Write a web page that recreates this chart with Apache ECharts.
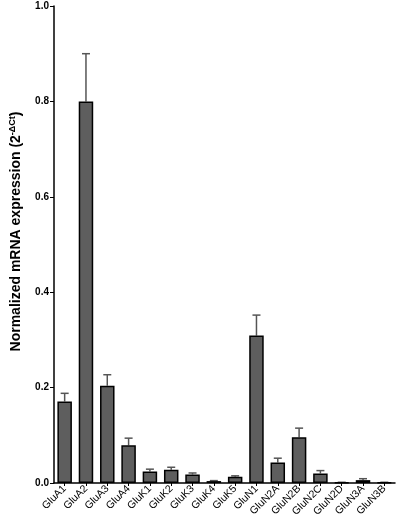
<!DOCTYPE html>
<html>
<head>
<meta charset="utf-8">
<script src="https://cdn.jsdelivr.net/npm/echarts@6/dist/echarts.min.js"></script>
<style>html,body{margin:0;padding:0;background:#fff;}#c{width:397px;height:521px;}</style>
</head>
<body>
<div id="c"></div>
<script>
const categories = ["GluA1","GluA2","GluA3","GluA4","GluK1","GluK2","GluK3","GluK4","GluK5","GluN1","GluN2A","GluN2B","GluN2C","GluN2D","GluN3A","GluN3B"];
const means = [0.171,0.800,0.204,0.079,0.024,0.028,0.018,0.004,0.013,0.309,0.043,0.096,0.020,0.001,0.006,0.001];
const errors = [0.017,0.100,0.023,0.015,0.005,0.005,0.003,0.001,0.002,0.043,0.009,0.019,0.006,0.0005,0.003,0.0005];
const yTicks = [0.0,0.2,0.4,0.6,0.8,1.0];

const chart = echarts.init(document.getElementById('c'), null, {renderer:'canvas'});
const font = '"Liberation Sans", Arial, sans-serif';
chart.setOption({
  animation:false,
  grid:{left:43,top:6,right:2,bottom:38,containLabel:false},
  xAxis:{
    type:'category', data:categories,
    axisLine:{lineStyle:{color:'#000',width:1.5}},
    axisTick:{show:true,alignWithLabel:true,length:3,lineStyle:{color:'#000'}},
    axisLabel:{rotate:45,fontSize:10.5,color:'#000',fontFamily:font,margin:4,interval:0}
  },
  yAxis:{
    type:'value', min:0, max:1.0, interval:0.2,
    name:'Normalized mRNA expression (2{sup|-ΔCt})',
    nameLocation:'middle', nameRotate:90, nameGap:29,
    nameTextStyle:{fontSize:14,fontWeight:'bold',color:'#000',fontFamily:font,padding:[0,0,0,26],
      rich:{sup:{fontSize:9,fontWeight:'bold',color:'#000',fontFamily:font,verticalAlign:'top',padding:[0,0,8,0]}}},
    axisLine:{show:true,lineStyle:{color:'#000',width:1.5}},
    axisTick:{show:true,length:4,lineStyle:{color:'#000'}},
    splitLine:{show:false},
    axisLabel:{fontSize:10,fontWeight:'bold',color:'#000',fontFamily:font,margin:5,
      formatter:v=>{const t=yTicks.find(x=>Math.abs(x-v)<1e-9);return (t!==undefined?t:v).toFixed(1);}}
  },
  series:[
    {type:'bar',data:means,barWidth:'68%',
     itemStyle:{color:'#5e5e5e',borderColor:'#000',borderWidth:1.5}},
    {type:'custom',
     data:means.map((m,i)=>[i,m,m+errors[i]]),
     renderItem:(params,api)=>{
       const lo=api.coord([api.value(0),api.value(1)]);
       const hi=api.coord([api.value(0),api.value(2)]);
       const hw=4;
       return {type:'group',children:[
         {type:'line',shape:{x1:lo[0],y1:lo[1],x2:hi[0],y2:hi[1]},style:{stroke:'#555',lineWidth:1.5}},
         {type:'line',shape:{x1:hi[0]-hw,y1:hi[1],x2:hi[0]+hw,y2:hi[1]},style:{stroke:'#555',lineWidth:1.5}}
       ]};
     },
     z:1}
  ]
});
</script>
</body>
</html>
